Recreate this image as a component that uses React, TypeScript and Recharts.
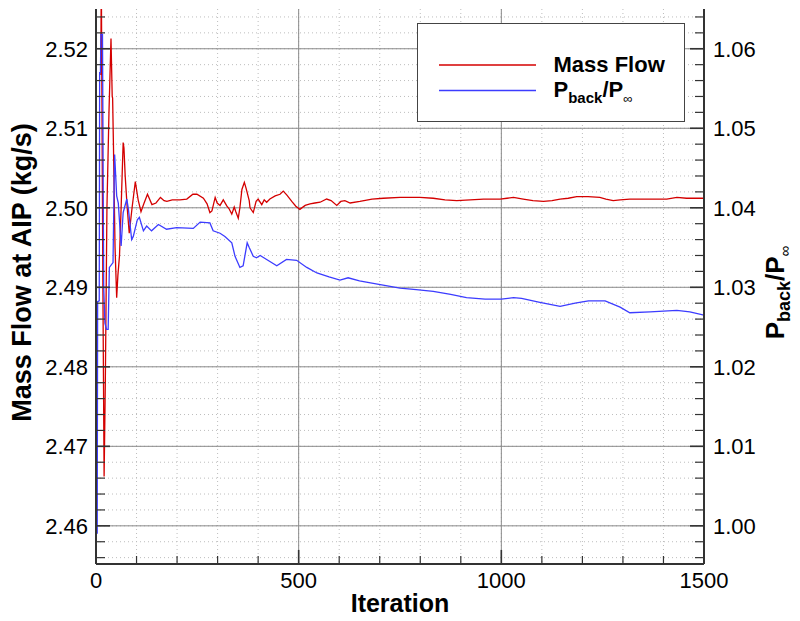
import React from 'react'
import { LineChart, Line, XAxis, YAxis, CartesianGrid, Legend, Label } from 'recharts'

// Mass flow at AIP (left axis)
const massFlowIter = [
  12, 13, 17, 20, 23, 27, 32, 37, 40, 41,
  43, 47, 51, 54, 58, 62, 67, 69, 72, 77,
  82, 89, 97, 104, 111, 118, 127, 138, 148, 159,
  168, 175, 188, 207, 224, 239, 249, 265, 274, 281,
  286, 294, 299, 306, 314, 323, 328, 335, 341, 345,
  351, 355, 360, 366, 370, 373, 378, 380, 388, 395,
  400, 409, 415, 421, 429, 442, 454, 462, 471, 483,
  493, 503, 516, 528, 540, 553, 569, 580, 594, 604,
  614, 627, 651, 681, 709, 750, 799, 832, 861, 890,
  923, 956, 997, 1014, 1030, 1054, 1078, 1104, 1125, 1145,
  1165, 1186, 1214, 1243, 1258, 1276, 1293, 1317, 1354, 1408,
  1433, 1457, 1500,
]
const massFlowValue = [
  2.5167, 2.53, 2.49, 2.4662, 2.478, 2.5, 2.512, 2.5213, 2.514, 2.5138,
  2.508, 2.495, 2.4887, 2.4915, 2.494, 2.5, 2.5082, 2.5075, 2.504, 2.5,
  2.4968, 2.5, 2.5033, 2.501, 2.4995, 2.5005, 2.5017, 2.5004, 2.5006, 2.5013,
  2.5009, 2.5008, 2.501, 2.501, 2.5011, 2.5017, 2.5017, 2.5012, 2.5005, 2.4994,
  2.4996, 2.5013, 2.5006, 2.5003, 2.501, 2.5002, 2.4999, 2.4992, 2.5001, 2.4995,
  2.4987, 2.5, 2.5023, 2.5032, 2.5025, 2.5019, 2.5009, 2.5, 2.4994, 2.5008,
  2.5011, 2.5004, 2.501, 2.5007, 2.5011, 2.5015, 2.5017, 2.5021, 2.5016, 2.5008,
  2.5002, 2.4998, 2.5003, 2.5005, 2.5006, 2.5007, 2.5011, 2.5009, 2.5003, 2.5008,
  2.5009, 2.5006, 2.5008, 2.5011, 2.5012, 2.5013, 2.5013, 2.5012, 2.501, 2.5009,
  2.501, 2.5011, 2.5011, 2.5012, 2.5013, 2.5011, 2.5009, 2.5008, 2.5009, 2.5011,
  2.5012, 2.5014, 2.5014, 2.5013, 2.5011, 2.5009, 2.501, 2.5011, 2.5011, 2.5011,
  2.5013, 2.5012, 2.5012,
]

// Back pressure ratio (right axis)
const pressureIter = [
  3, 4, 8, 9, 11, 12, 16, 19, 22, 26,
  30, 33, 42, 45, 46, 51, 55, 62, 67, 76,
  80, 88, 92, 102, 107, 117, 125, 137, 154, 174,
  199, 240, 257, 281, 289, 306, 318, 335, 343, 355,
  363, 373, 378, 388, 396, 405, 421, 446, 470, 495,
  520, 545, 575, 602, 622, 650, 684, 750, 790, 832,
  875, 914, 960, 1000, 1030, 1050, 1095, 1145, 1182, 1215,
  1256, 1293, 1317, 1367, 1433, 1465, 1500,
]
const pressureValue = [
  0.999, 1.0282, 1.0283, 1.057, 1.057, 1.0618, 1.0618, 1.03, 1.0255, 1.0247,
  1.0247, 1.0325, 1.0331, 1.044, 1.0467, 1.0415, 1.0406, 1.0352, 1.0394, 1.0411,
  1.0398, 1.036, 1.0364, 1.0385, 1.0388, 1.0371, 1.0377, 1.0371, 1.0379, 1.0373,
  1.0375, 1.0374, 1.0382, 1.0381, 1.0371, 1.0368, 1.0364, 1.0356, 1.0339, 1.0325,
  1.0327, 1.0356, 1.035, 1.0339, 1.0337, 1.034, 1.0335, 1.0327, 1.0335, 1.0334,
  1.0325, 1.0318, 1.0313, 1.0309, 1.0312, 1.0308, 1.0305, 1.0299, 1.0297, 1.0295,
  1.0291, 1.0287, 1.0285, 1.0285, 1.0287, 1.0286, 1.0281, 1.0276, 1.028, 1.0283,
  1.0283, 1.0275, 1.0268, 1.0269, 1.0271, 1.0269, 1.0265,
]

const xMajorTicks = [0, 500, 1000, 1500]
const leftMajorTicks = [2.46, 2.47, 2.48, 2.49, 2.5, 2.51, 2.52]
const rightMajorTicks = [1.0, 1.01, 1.02, 1.03, 1.04, 1.05, 1.06]

const xDomain = [0, 1500]
const leftDomain = [2.4552, 2.525]
const rightDomain = [0.9952, 1.065]

const steps = (from: number, to: number, step: number) => {
  const out: number[] = []
  for (let v = from; v <= to + step / 2; v += step) out.push(Math.round(v * 1000) / 1000)
  return out
}
const xMinorTicks = steps(0, 1500, 100)
const leftMinorTicks = steps(2.456, 2.524, 0.002)
const rightMinorTicks = steps(0.996, 1.064, 0.002)

const massFlowData = massFlowIter.map((iter, i) => ({ iter, mass: massFlowValue[i] }))
const pressureData = pressureIter.map((iter, i) => ({ iter, ratio: pressureValue[i] }))

const FONT = '"Liberation Sans", Arial, Helvetica, sans-serif'
const AXIS = '#333'
const RED = '#d40000'
const BLUE = '#3c3cff'
const MARGIN = 8

const isMajor = (v: number, list: number[]) => list.some((t) => Math.abs(t - v) < 1e-6)

function LeftTick(props: any) {
  const { x, y, payload } = props
  const ax = x + MARGIN
  const major = isMajor(payload.value, leftMajorTicks)
  return (
    <g>
      <line x1={ax} x2={ax + (major ? 14 : 9)} y1={y} y2={y} stroke={AXIS} strokeWidth={major ? 1.6 : 1.2} />
      {major && (
        <text x={ax - 8} y={y + 8} textAnchor="end" fontSize={22} fontFamily={FONT} fill="#000">
          {payload.value.toFixed(2)}
        </text>
      )}
    </g>
  )
}

function RightTick(props: any) {
  const { x, y, payload } = props
  const ax = x - MARGIN
  const major = isMajor(payload.value, rightMajorTicks)
  return (
    <g>
      <line x1={ax} x2={ax - (major ? 14 : 9)} y1={y} y2={y} stroke={AXIS} strokeWidth={major ? 1.6 : 1.2} />
      {major && (
        <text x={ax + 9} y={y + 8} textAnchor="start" fontSize={22} fontFamily={FONT} fill="#000">
          {payload.value.toFixed(2)}
        </text>
      )}
    </g>
  )
}

function BottomTick(props: any) {
  const { x, y, payload } = props
  const ay = y - MARGIN
  const major = isMajor(payload.value, xMajorTicks)
  return (
    <g>
      <line x1={x} x2={x} y1={ay} y2={ay - (major ? 14 : 8)} stroke={AXIS} strokeWidth={major ? 1.6 : 1.2} />
      {major && (
        <text x={x} y={ay + 24} textAnchor="middle" fontSize={22} fontFamily={FONT} fill="#000">
          {payload.value}
        </text>
      )}
    </g>
  )
}

function LeftTitle(props: any) {
  const { viewBox } = props
  const cx = viewBox.x + 31
  const cy = viewBox.y + viewBox.height / 2 - 14
  return (
    <text x={cx} y={cy} transform={`rotate(-90, ${cx}, ${cy})`} textAnchor="middle"
      fontSize={27} fontWeight="bold" fontFamily={FONT} fill="#000">
      Mass Flow at AIP (kg/s)
    </text>
  )
}

function RightTitle(props: any) {
  const { viewBox } = props
  const cx = viewBox.x + 80
  const cy = viewBox.y + viewBox.height / 2 + 6
  return (
    <text x={cx} y={cy} transform={`rotate(-90, ${cx}, ${cy})`} textAnchor="middle"
      fontSize={26} fontWeight="bold" fontFamily={FONT} fill="#000">
      P<tspan fontSize={18} dy={6}>back</tspan>
      <tspan fontSize={26} dy={-6}>/P</tspan>
      <tspan fontSize={15} fontWeight="normal" dy={6}>∞</tspan>
    </text>
  )
}

function BottomTitle(props: any) {
  const { viewBox } = props
  return (
    <text x={viewBox.x + viewBox.width / 2} y={viewBox.y + 48} textAnchor="middle"
      fontSize={25} fontWeight="bold" fontFamily={FONT} fill="#000">
      Iteration
    </text>
  )
}

function LegendBox() {
  return (
    <div style={{ width: 268, height: 99, border: '1px solid #444', background: '#fff', boxSizing: 'border-box' }}>
      <svg width={266} height={97} style={{ display: 'block' }}>
        <line x1={21} x2={118} y1={41} y2={41} stroke={RED} strokeWidth={1.3} />
        <line x1={21} x2={118} y1={66.5} y2={66.5} stroke={BLUE} strokeWidth={1.3} />
        <text x={135.5} y={48} fontSize={22} fontWeight="bold" fontFamily={FONT} fill="#000">Mass Flow</text>
        <text x={135.5} y={73} fontSize={22} fontWeight="bold" fontFamily={FONT} fill="#000">
          P<tspan fontSize={15} dy={6}>back</tspan>
          <tspan fontSize={22} dy={-6}>/P</tspan>
          <tspan fontSize={13} fontWeight="normal" dy={6}>∞</tspan>
        </text>
      </svg>
    </div>
  )
}

// grid positions from the plot box and the axis domains
const hLines = (values: number[], domain: number[]) => ({ offset }: any) =>
  values.map((v) => offset.top + ((domain[1] - v) / (domain[1] - domain[0])) * offset.height)
const vLines = (values: number[], domain: number[]) => ({ offset }: any) =>
  values.map((v) => offset.left + ((v - domain[0]) / (domain[1] - domain[0])) * offset.width)

export default function App() {
  return (
    <div style={{ position: 'absolute', left: 0, top: 0, background: '#fff' }}>
      <LineChart width={800} height={621} margin={{ top: 9, right: 0, bottom: 0, left: 0 }} style={{ fontFamily: FONT }}>
        <CartesianGrid yAxisId="left" stroke="#bdbdbd" strokeDasharray="1 3" strokeWidth={1}
          horizontalCoordinatesGenerator={hLines(leftMinorTicks, leftDomain)}
          verticalCoordinatesGenerator={vLines(xMinorTicks, xDomain)} />
        <CartesianGrid yAxisId="left" stroke="#8a8a8a" strokeWidth={1}
          horizontalCoordinatesGenerator={hLines(leftMajorTicks, leftDomain)}
          verticalCoordinatesGenerator={vLines(xMajorTicks, xDomain)} />
        <XAxis dataKey="iter" type="number" domain={xDomain} allowDataOverflow ticks={xMinorTicks} interval={0}
          tickSize={0} tickMargin={MARGIN} tick={<BottomTick />} height={57}
          axisLine={{ stroke: AXIS, strokeWidth: 2 }}>
          <Label content={<BottomTitle />} />
        </XAxis>
        <XAxis xAxisId="top" orientation="top" dataKey="iter" type="number" domain={xDomain} height={0}
          tick={false} tickLine={false} axisLine={{ stroke: AXIS, strokeWidth: 2 }} />
        <YAxis yAxisId="left" type="number" domain={leftDomain} allowDataOverflow ticks={leftMinorTicks}
          interval={0} tickSize={0} tickMargin={MARGIN} tick={<LeftTick />} width={96}
          axisLine={{ stroke: AXIS, strokeWidth: 2 }}>
          <Label content={<LeftTitle />} />
        </YAxis>
        <YAxis yAxisId="right" orientation="right" type="number" domain={rightDomain} allowDataOverflow
          ticks={rightMinorTicks} interval={0} tickSize={0} tickMargin={MARGIN} tick={<RightTick />} width={96}
          axisLine={{ stroke: AXIS, strokeWidth: 2 }}>
          <Label content={<RightTitle />} />
        </YAxis>
        <Legend layout="vertical" align="center" verticalAlign="middle" content={() => <LegendBox />}
          wrapperStyle={{ left: 416.7, top: 23.3, width: 268 }} />
        <Line yAxisId="left" data={massFlowData} dataKey="mass" name="Mass Flow" type="linear" stroke={RED}
          strokeWidth={1.3} dot={false} isAnimationActive={false} />
        <Line yAxisId="right" data={pressureData} dataKey="ratio" name="Pback/Pinf" type="linear" stroke={BLUE}
          strokeWidth={1.3} dot={false} isAnimationActive={false} />
      </LineChart>
    </div>
  )
}
